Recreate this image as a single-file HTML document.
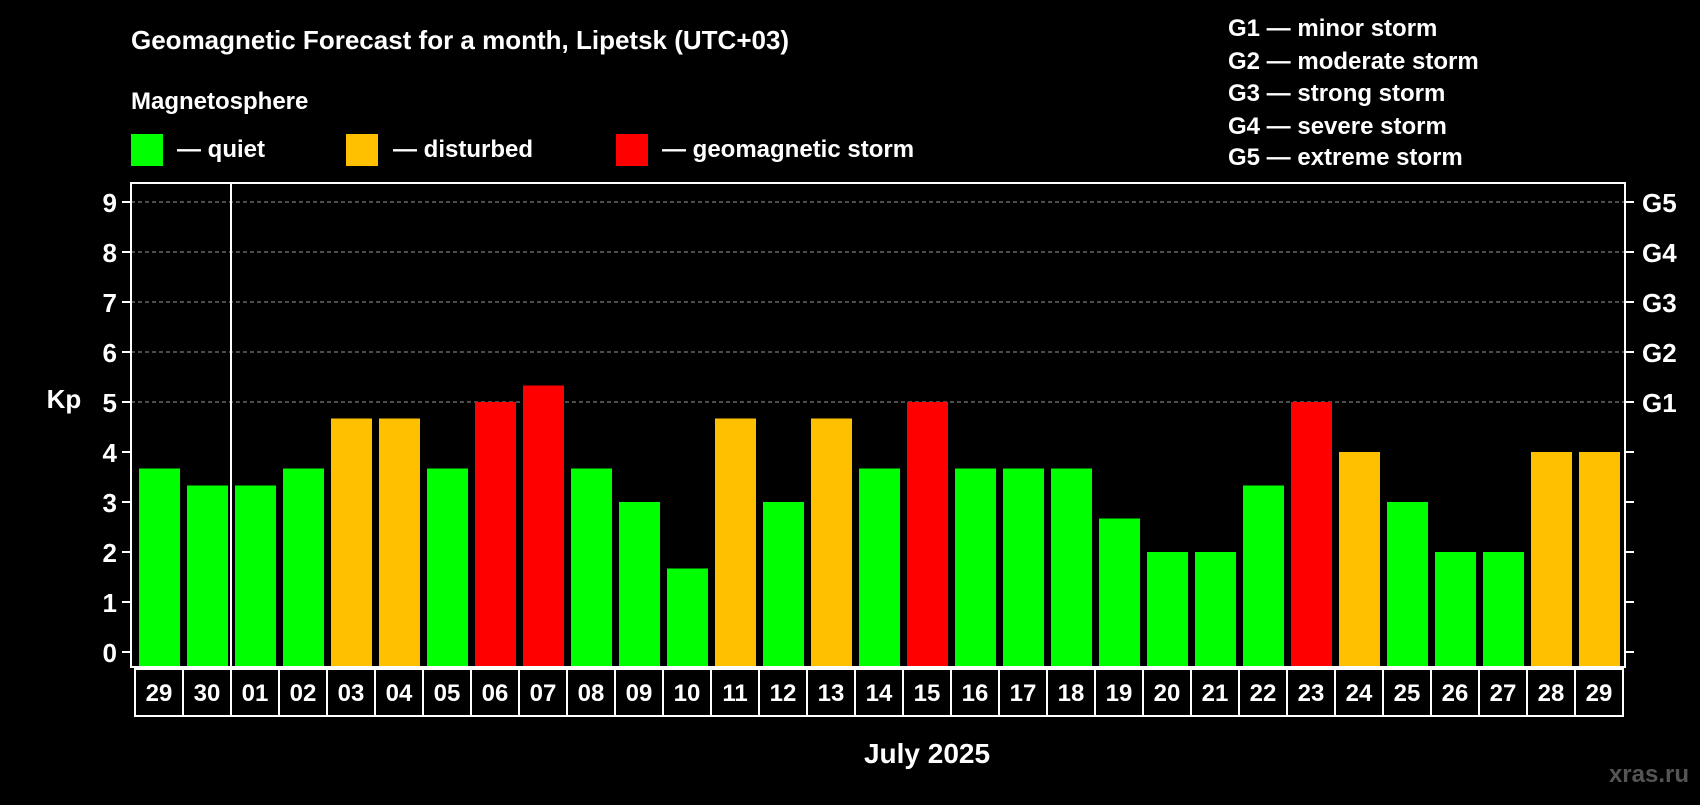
<!DOCTYPE html>
<html><head><meta charset="utf-8"><style>
body{margin:0;background:#000;width:1700px;height:800px;overflow:hidden}
svg text{font-family:"Liberation Sans",Arial,sans-serif;font-weight:bold;fill:#fff}
</style></head><body>
<svg id="c" width="1700" height="800">
<text x="131" y="49" font-size="26">Geomagnetic Forecast for a month, Lipetsk (UTC+03)</text>
<text x="131" y="109" font-size="24">Magnetosphere</text>
<rect x="131" y="134" width="32" height="32" fill="#00ff00"/>
<text x="177" y="157" font-size="24">— quiet</text>
<rect x="346" y="134" width="32" height="32" fill="#ffc000"/>
<text x="393" y="157" font-size="24">— disturbed</text>
<rect x="616" y="134" width="32" height="32" fill="#ff0000"/>
<text x="662" y="157" font-size="24">— geomagnetic storm</text>
<g font-size="24">
<text x="1228" y="36">G1 — minor storm</text>
<text x="1228" y="69">G2 — moderate storm</text>
<text x="1228" y="101">G3 — strong storm</text>
<text x="1228" y="134">G4 — severe storm</text>
<text x="1228" y="165">G5 — extreme storm</text>
</g>
<text x="64" y="408" font-size="26" text-anchor="middle">Kp</text>
<text x="927" y="763" font-size="28" text-anchor="middle">July 2025</text>
<text x="1689" y="782" font-size="24" text-anchor="end" style="fill:#555">xras.ru</text>
<g id="plot"></g>
</svg>
<script>
const days=["29","30","01","02","03","04","05","06","07","08","09","10","11","12","13","14","15","16","17","18","19","20","21","22","23","24","25","26","27","28","29"];
const kp=[3.67,3.33,3.33,3.67,4.67,4.67,3.67,5,5.33,3.67,3,1.67,4.67,3,4.67,3.67,5,3.67,3.67,3.67,2.67,2,2,3.33,5,4,3,2,2,4,4];
const yTicks=[0,1,2,3,4,5,6,7,8,9];
const gLabels=["G1","G2","G3","G4","G5"];
const NS="http://www.w3.org/2000/svg";
const g=document.getElementById('plot');
const L=131,R=1625,T=183,B=667,C0=135,CW=48;
const y=v=>652-v*50;
const x=i=>C0+i*CW;
function mk(t,a){const e=document.createElementNS(NS,t);for(const k in a)e.setAttribute(k,a[k]);g.appendChild(e);return e;}
yTicks.forEach(v=>{
 if(v>=5){const l=mk('line',{x1:L,x2:R,y1:y(v),y2:y(v),stroke:'#999','stroke-dasharray':'4 3','stroke-width':1});
 
 }
 const t1=mk('line',{x1:L-9,x2:L,y1:y(v),y2:y(v),stroke:'#fff','stroke-width':2});
 
 
 const t2=mk('line',{x1:R,x2:R+9,y1:y(v),y2:y(v),stroke:'#fff','stroke-width':2});
 
 
 const tx=mk('text',{x:117,y:y(v)+10,'font-size':26,'text-anchor':'end'});tx.textContent=v;
 
 
});
gLabels.forEach((s,i)=>{const t=mk('text',{x:1642,y:y(5+i)+10,'font-size':26});t.textContent=s;
 
 });
kp.forEach((v,i)=>{
 const col=v>=5?'#ff0000':(v>=4?'#ffc000':'#00ff00');
 const r=mk('rect',{x:x(i)+4,y:y(v),width:41,height:B-y(v),fill:col});
 
 
 const b=mk('rect',{x:x(i),y:B+2,width:CW,height:47,fill:'none',stroke:'#fff','stroke-width':2});
 
 
 const t=mk('text',{x:x(i)+CW/2,y:B+34,'font-size':24,'text-anchor':'middle'});t.textContent=days[i];
 
 
});
const f=mk('rect',{x:L,y:T,width:R-L,height:B-T,fill:'none',stroke:'#fff','stroke-width':2});


const sep=mk('line',{x1:x(2),x2:x(2),y1:T,y2:B,stroke:'#fff','stroke-width':2});


</script>
</body></html>
